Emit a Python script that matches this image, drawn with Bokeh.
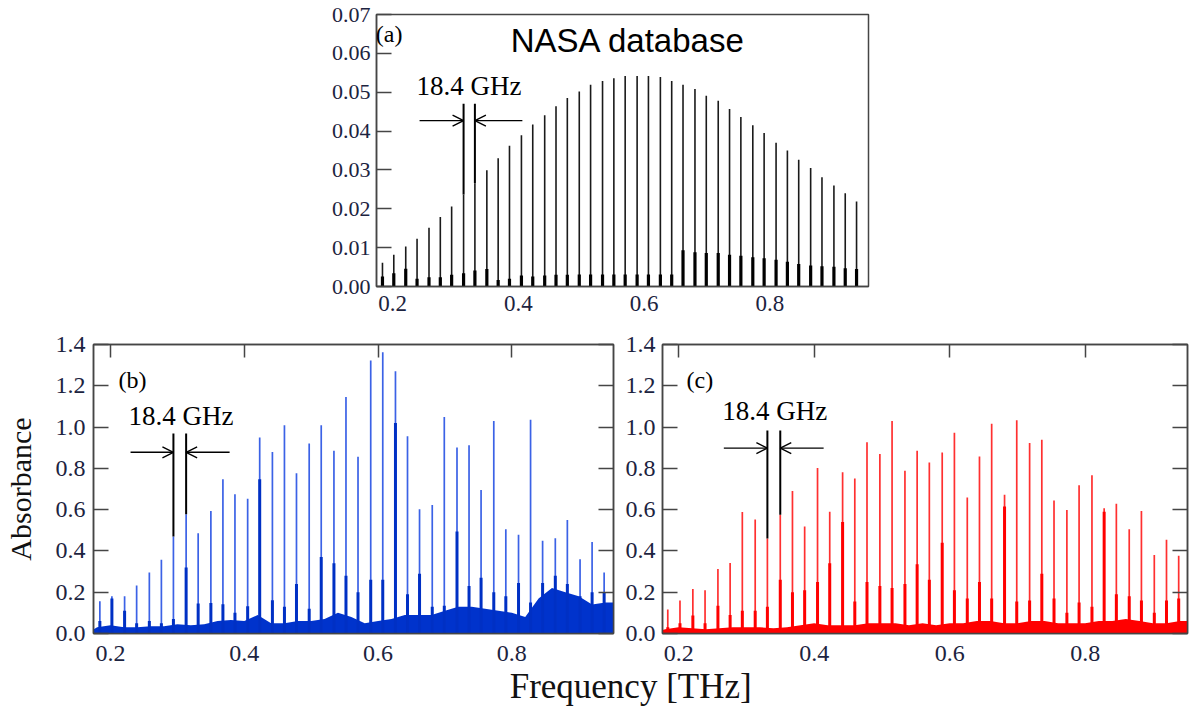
from bokeh.plotting import figure
from bokeh.models import (Range1d, LinearAxis, FixedTicker, NumeralTickFormatter,
                          Label, Arrow, OpenHead, Spacer)
from bokeh.layouts import row, column
from bokeh.embed import file_html
from bokeh.resources import INLINE

# ---------------- data ----------------
freq = [0.184, 0.202, 0.221, 0.239, 0.258, 0.276, 0.294, 0.313, 0.331, 0.350,
        0.368, 0.386, 0.405, 0.423, 0.442, 0.460, 0.478, 0.497, 0.515, 0.534,
        0.552, 0.570, 0.589, 0.607, 0.626, 0.644, 0.662, 0.681, 0.699, 0.718,
        0.736, 0.754, 0.773, 0.791, 0.810, 0.828, 0.846, 0.865, 0.883, 0.902,
        0.920, 0.938]

nasa_main = [0.0061, 0.0082, 0.0103, 0.0123, 0.0151, 0.0179, 0.0206, 0.0237, 0.0266, 0.0299,
             0.0330, 0.0362, 0.0389, 0.0417, 0.0441, 0.0464, 0.0485, 0.0502, 0.0519, 0.0529,
             0.0536, 0.0542, 0.0542, 0.0542, 0.0539, 0.0529, 0.0519, 0.0508, 0.0491, 0.0478,
             0.0457, 0.0436, 0.0415, 0.0395, 0.0370, 0.0350, 0.0326, 0.0305, 0.0281, 0.0260,
             0.0240, 0.0219]
nasa_sub = [0.0026, 0.0034, 0.0046, 0.0020, 0.0024, 0.0024, 0.0030, 0.0034, 0.0041, 0.0045,
            0.0017, 0.0020, 0.0028, 0.0026, 0.0028, 0.0030, 0.0030, 0.0031, 0.0031, 0.0031,
            0.0031, 0.0031, 0.0031, 0.0031, 0.0031, 0.0031, 0.0093, 0.0088, 0.0086, 0.0086,
            0.0082, 0.0079, 0.0075, 0.0073, 0.0069, 0.0064, 0.0058, 0.0054, 0.0052, 0.0051,
            0.0047, 0.0045]

b_main = [0.156, 0.180, 0.180, 0.232, 0.296, 0.357, 0.470, 0.578, 0.486, 0.594,
          0.747, 0.674, 0.653, 0.949, 0.879, 1.009, 0.776, 0.920, 1.009, 0.885,
          1.146, 0.856, 1.323, 1.363, 1.271, 0.956, 0.602, 0.623, 1.049, 0.901,
          0.912, 0.695, 1.030, 0.505, 0.478, 1.036, 0.449, 0.462, 0.550, 0.360,
          0.443, 0.296]
b_sub = [0.06, 0.17, 0.11, 0.05, 0.06, 0.05, 0.07, 0.32, 0.145, 0.148,
         0.142, 0.10, 0.132, 0.747, 0.161, 0.13, 0.24, 0.12, 0.37, 0.34,
         0.28, 0.20, 0.26, 0.26, 1.02, 0.19, 0.29, 0.13, 0.135, 0.494,
         0.23, 0.27, 0.20, 0.18, 0.245, 0.15, 0.245, 0.28, 0.24, 0.18,
         0.20, 0.20]

c_main = [0.116, 0.160, 0.216, 0.210, 0.312, 0.341, 0.588, 0.552, 0.460, 0.575,
          0.690, 0.518, 0.802, 0.590, 0.781, 0.751, 0.927, 0.870, 1.030, 0.788,
          0.885, 0.828, 0.877, 0.972, 0.659, 0.857, 1.016, 0.672, 1.033, 0.923,
          0.938, 0.644, 0.598, 0.718, 0.767, 0.607, 0.628, 0.505, 0.593, 0.380,
          0.454, 0.377]
c_sub = [0.03, 0.05, 0.087, 0.05, 0.135, 0.09, 0.11, 0.11, 0.13, 0.26,
         0.20, 0.21, 0.25, 0.34, 0.54, 0.155, 0.25, 0.23, 0.22, 0.24,
         0.336, 0.26, 0.44, 0.21, 0.17, 0.25, 0.17, 0.615, 0.155, 0.16,
         0.29, 0.17, 0.10, 0.15, 0.13, 0.59, 0.19, 0.18, 0.16, 0.10,
         0.16, 0.17]

base_f = [0.175, 0.18, 0.20, 0.22, 0.24, 0.26, 0.28, 0.30, 0.32, 0.34, 0.36, 0.38,
          0.40, 0.42, 0.44, 0.46, 0.48, 0.50, 0.52, 0.54, 0.56, 0.58, 0.60, 0.62,
          0.64, 0.66, 0.68, 0.70, 0.72, 0.74, 0.76, 0.78, 0.80, 0.82, 0.84, 0.86,
          0.88, 0.90, 0.92, 0.94, 0.952]
b_base = [0.02, 0.03, 0.04, 0.03, 0.03, 0.035, 0.035, 0.045, 0.04, 0.045, 0.06, 0.065,
          0.06, 0.09, 0.05, 0.05, 0.06, 0.06, 0.07, 0.10, 0.08, 0.05, 0.06, 0.07,
          0.09, 0.09, 0.09, 0.11, 0.13, 0.13, 0.12, 0.11, 0.10, 0.08, 0.17, 0.22,
          0.20, 0.18, 0.14, 0.15, 0.15]
c_base = [0.015, 0.02, 0.03, 0.025, 0.02, 0.025, 0.03, 0.03, 0.03, 0.025, 0.03, 0.04,
          0.05, 0.04, 0.04, 0.04, 0.05, 0.05, 0.05, 0.04, 0.05, 0.04, 0.05, 0.05,
          0.06, 0.06, 0.05, 0.05, 0.06, 0.06, 0.05, 0.05, 0.05, 0.06, 0.06, 0.07,
          0.06, 0.05, 0.05, 0.06, 0.06]

x_ticks = [0.2, 0.4, 0.6, 0.8]
a_y_ticks = [0.00, 0.01, 0.02, 0.03, 0.04, 0.05, 0.06, 0.07]
bc_y_ticks = [0.0, 0.2, 0.4, 0.6, 0.8, 1.0, 1.2, 1.4]

# ---------------- styles ----------------
AX = "#454545"
LBL = "#1c2340"
SERIF = "Liberation Serif"


def style_axis(ax, font_size="24px", tick_in=15, labels=True, standoff=7):
    ax.axis_line_color = AX
    ax.axis_line_width = 1.5
    ax.major_tick_line_color = AX
    ax.major_tick_line_width = 1.5
    ax.major_tick_in = tick_in
    ax.major_tick_out = 0
    ax.minor_tick_line_color = None
    ax.major_label_text_font = SERIF
    if labels:
        ax.major_label_text_color = LBL
        ax.major_label_text_font_size = font_size
        ax.major_label_standoff = standoff
    else:
        ax.major_label_text_color = None
        ax.major_label_text_font_size = "1px"
        ax.major_label_standoff = 0


def make_fig(w, h, xr, yr, bl, br, bt, bb):
    p = figure(width=w, height=h, x_range=Range1d(*xr), y_range=Range1d(*yr),
               output_backend="svg", toolbar_location=None, title=None,
               min_border_left=bl, min_border_right=br, min_border_top=bt,
               min_border_bottom=bb)
    p.grid.visible = False
    p.outline_line_color = AX
    p.outline_line_width = 1.5
    p.background_fill_color = "white"
    p.border_fill_color = "white"
    return p


def text(p, x, y, s, size, font=SERIF):
    p.add_layout(Label(x=x, y=y, text=s, text_font=font, text_font_size=size,
                       text_color="black", text_baseline="alphabetic"))


def add_marker(p, x1, x2, y1, y2, top, arrow_y, xs_left, xs_right, text_x, text_y):
    p.segment(x0=[x1, x2], y0=[y1, y2], x1=[x1, x2], y1=[top, top],
              line_color="black", line_width=2)
    p.add_layout(Arrow(end=OpenHead(size=11, line_width=1.4, line_color="black"),
                       x_start=xs_left, y_start=arrow_y, x_end=x1, y_end=arrow_y,
                       line_width=1.4, line_color="black"))
    p.add_layout(Arrow(end=OpenHead(size=11, line_width=1.4, line_color="black"),
                       x_start=xs_right, y_start=arrow_y, x_end=x2, y_end=arrow_y,
                       line_width=1.4, line_color="black"))
    text(p, text_x, text_y, "18.4 GHz", "27px")


# ---------------- panel (a) ----------------
pa = make_fig(600, 328, (0.1745, 0.957), (0, 0.07), 76, 32, 14, 42)
style_axis(pa.yaxis[0], font_size="22px", tick_in=15, standoff=6)
pa.yaxis[0].ticker = FixedTicker(ticks=a_y_ticks)
pa.yaxis[0].formatter = NumeralTickFormatter(format="0.00")
style_axis(pa.xaxis[0], font_size="23px", tick_in=0, standoff=9)
pa.xaxis[0].ticker = FixedTicker(ticks=x_ticks)
pa.segment(x0=freq, y0=[0] * len(freq), x1=freq, y1=nasa_main,
           line_color="#1a1a1a", line_width=1.6)
pa.segment(x0=freq, y0=[0] * len(freq), x1=freq, y1=nasa_sub,
           line_color="black", line_width=3.2)
text(pa, 0.1735, 0.0651, "(a)", "24px")
text(pa, 0.388, 0.0633, "NASA database", "33px", font="Liberation Sans")
add_marker(pa, freq[7], freq[8], nasa_main[7], nasa_main[8], 0.047, 0.0427,
           0.243, 0.4065, 0.238, 0.0515)

# ---------------- panel (b) ----------------
pb = make_fig(618, 347, (0.1745, 0.952), (0, 1.4), 93, 5, 16, 42)
style_axis(pb.yaxis[0], font_size="24px", tick_in=15, standoff=8)
pb.yaxis[0].ticker = FixedTicker(ticks=bc_y_ticks)
pb.yaxis[0].formatter = NumeralTickFormatter(format="0.0")
pb.yaxis[0].axis_label = "Absorbance"
pb.yaxis[0].axis_label_text_font = SERIF
pb.yaxis[0].axis_label_text_font_size = "30px"
pb.yaxis[0].axis_label_text_font_style = "normal"
pb.yaxis[0].axis_label_text_color = "#111111"
pb.yaxis[0].axis_label_standoff = 16
style_axis(pb.xaxis[0], font_size="24px", tick_in=0, standoff=12)
pb.xaxis[0].ticker = FixedTicker(ticks=x_ticks)
top_b = LinearAxis(ticker=FixedTicker(ticks=x_ticks))
style_axis(top_b, tick_in=13, labels=False)
pb.add_layout(top_b, "above")
right_b = LinearAxis(ticker=FixedTicker(ticks=bc_y_ticks))
style_axis(right_b, tick_in=15, labels=False)
pb.add_layout(right_b, "right")

pb.varea(x=base_f, y1=[0] * len(base_f), y2=b_base, fill_color="#0033cc")
pb.segment(x0=freq, y0=[0] * len(freq), x1=freq, y1=b_main,
           line_color="#3b62e6", line_width=1.7)
pb.segment(x0=freq, y0=[0] * len(freq), x1=freq, y1=b_sub,
           line_color="#0030c4", line_width=3)
text(pb, 0.212, 1.226, "(b)", "24px")
add_marker(pb, freq[6], freq[7], b_main[6], b_main[7], 0.969, 0.878,
           0.2299, 0.378, 0.227, 1.052)

# ---------------- panel (c) ----------------
pc = make_fig(571, 347, (0.1762, 0.951), (0, 1.4), 44, 2, 16, 42)
style_axis(pc.yaxis[0], font_size="24px", tick_in=15, standoff=7)
pc.yaxis[0].ticker = FixedTicker(ticks=bc_y_ticks)
pc.yaxis[0].formatter = NumeralTickFormatter(format="0.0")
style_axis(pc.xaxis[0], font_size="24px", tick_in=0, standoff=12)
pc.xaxis[0].ticker = FixedTicker(ticks=x_ticks)
top_c = LinearAxis(ticker=FixedTicker(ticks=x_ticks))
style_axis(top_c, tick_in=13, labels=False)
pc.add_layout(top_c, "above")
right_c = LinearAxis(ticker=FixedTicker(ticks=bc_y_ticks))
style_axis(right_c, tick_in=15, labels=False)
pc.add_layout(right_c, "right")

pc.varea(x=base_f, y1=[0] * len(base_f), y2=c_base, fill_color="#ff0000")
pc.segment(x0=freq, y0=[0] * len(freq), x1=freq, y1=c_main,
           line_color="#ff3030", line_width=1.7)
pc.segment(x0=freq, y0=[0] * len(freq), x1=freq, y1=c_sub,
           line_color="#ff0000", line_width=3)
text(pc, 0.2118, 1.226, "(c)", "24px")
add_marker(pc, freq[8], freq[9], c_main[8], c_main[9], 0.983, 0.898,
           0.2667, 0.414, 0.2644, 1.076)

# ---------------- common x label ----------------
pl = figure(width=1189, height=41, x_range=Range1d(0, 1), y_range=Range1d(0, 41),
            output_backend="svg", toolbar_location=None, title=None,
            x_axis_location=None, y_axis_location=None, min_border=0,
            margin=(-10, 0, 0, 0))
pl.grid.visible = False
pl.outline_line_color = None
pl.background_fill_color = None
pl.border_fill_color = None
pl.add_layout(Label(x=0.53, y=20, text="Frequency [THz]", text_font=SERIF,
                    text_font_size="35px", text_align="center", text_color="#111111",
                    text_baseline="alphabetic"))

layout = column(
    row(Spacer(width=300, height=328), pa, Spacer(width=289, height=328)),
    row(pb, pc),
    pl,
)

open("out.html", "w").write(file_html(layout, INLINE))
